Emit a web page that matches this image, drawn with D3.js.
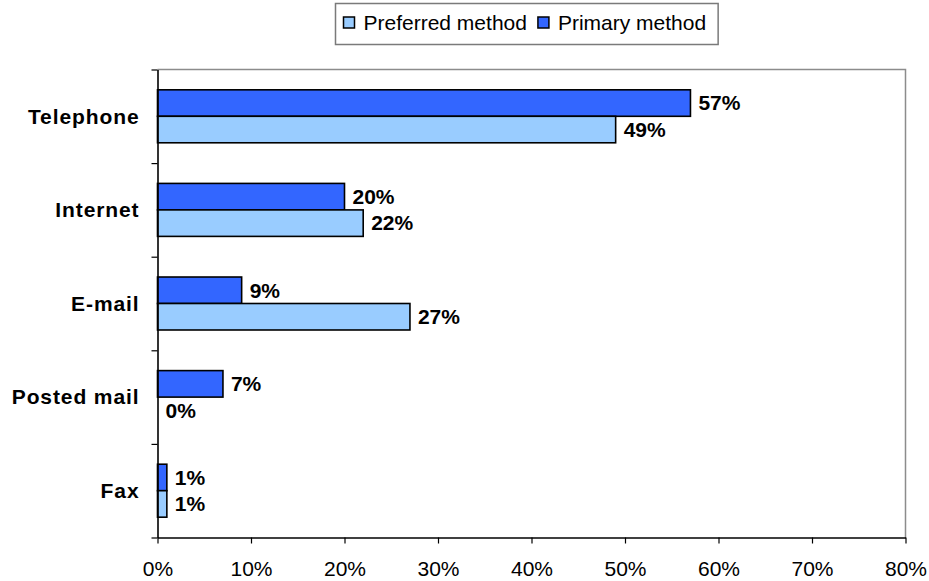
<!DOCTYPE html>
<html>
<head>
<meta charset="utf-8">
<script src="https://cdn.jsdelivr.net/npm/d3@7"></script>
<style>
  html, body { margin: 0; padding: 0; background: #fff; }
  svg { display: block; font-family: "Liberation Sans", Arial, sans-serif; }
</style>
</head>
<body>
<svg id="chart" width="929" height="581"></svg>
<script>
// Contact methods, top to bottom
const categories = ["Telephone", "Internet", "E-mail", "Posted mail", "Fax"];
const seriesNames = ["Primary method", "Preferred method"];
const primaryValues = [0.57, 0.20, 0.09, 0.07, 0.01];
const preferredValues = [0.49, 0.22, 0.27, 0.00, 0.01];
const xTicks = [0, 0.1, 0.2, 0.3, 0.4, 0.5, 0.6, 0.7, 0.8];
const legendOrder = ["Preferred method", "Primary method"];

const colors = { "Primary method": "#3366FF", "Preferred method": "#99CCFF" };
const values = { "Primary method": primaryValues, "Preferred method": preferredValues };

const svg = d3.select("#chart");
const plot = { left: 157.5, right: 905.5, top: 69.5, bottom: 537.5 };

const x = d3.scaleLinear().domain([0, 0.8]).range([plot.left, plot.right]);
const y = d3.scaleBand().domain(categories).range([plot.top, plot.bottom])
  .paddingInner(0.434).paddingOuter(0.217);
const ySub = d3.scaleBand().domain(seriesNames).range([0, y.bandwidth()]);
const pct = d3.format(".0%");

// plot area frame: grey top and right edges
svg.append("path")
  .attr("d", `M${plot.left},${plot.top}H${plot.right}V${plot.bottom}`)
  .attr("fill", "none").attr("stroke", "#8c8c8c").attr("stroke-width", 1.5);

// bars
const rows = svg.append("g").selectAll("g").data(categories).join("g")
  .attr("transform", c => `translate(0,${y(c)})`);

seriesNames.forEach(s => {
  rows.append("rect")
    .attr("x", x(0))
    .attr("y", ySub(s))
    .attr("width", (c, i) => x(values[s][i]) - x(0))
    .attr("height", ySub.bandwidth())
    .attr("fill", colors[s])
    .attr("stroke", "#000")
    .attr("stroke-width", 1.6)
    .attr("display", (c, i) => values[s][i] > 0 ? null : "none");

  rows.append("text")
    .attr("x", (c, i) => x(values[s][i]) + 8)
    .attr("y", ySub(s) + ySub.bandwidth() / 2)
    .attr("dy", "0.35em")
    .attr("font-size", 21)
    .attr("font-weight", "bold")
    .attr("fill", "#000")
    .text((c, i) => pct(values[s][i]));
});

// x axis
const xAxis = svg.append("g")
  .attr("transform", `translate(0,${plot.bottom})`)
  .call(d3.axisBottom(x).tickValues(xTicks).tickFormat(pct).tickSize(6).tickSizeOuter(0));
xAxis.select(".domain").attr("stroke", "#000").attr("stroke-width", 1.6);
xAxis.selectAll(".tick line").attr("stroke", "#000").attr("stroke-width", 1.2);
xAxis.selectAll(".tick text")
  .attr("font-family", "Liberation Sans, Arial, sans-serif")
  .attr("font-size", 21).attr("fill", "#000").attr("y", 23.5).attr("dy", "0.71em");

// y axis: ticks at category boundaries
const yEdges = d3.scaleLinear().domain([0, categories.length]).range([plot.top, plot.bottom]);
const yAxis = svg.append("g")
  .attr("transform", `translate(${plot.left},0)`)
  .call(d3.axisLeft(yEdges).tickValues(d3.range(categories.length + 1)).tickFormat("").tickSize(6).tickSizeOuter(0));
yAxis.select(".domain").attr("stroke", "#000").attr("stroke-width", 1.6);
yAxis.selectAll(".tick line").attr("stroke", "#000").attr("stroke-width", 1.2);

// category labels
svg.append("g").selectAll("text").data(categories).join("text")
  .attr("x", 139.5)
  .attr("y", c => y(c) + y.bandwidth() / 2)
  .attr("dy", "0.35em")
  .attr("text-anchor", "end")
  .attr("font-size", 21)
  .attr("font-weight", "bold")
  .attr("letter-spacing", "0.9px")
  .attr("fill", "#000")
  .text(c => c);

// legend
const legend = svg.append("g");
const legendBox = legend.append("rect")
  .attr("x", 335.5).attr("y", 3.5).attr("height", 41)
  .attr("fill", "#fff").attr("stroke", "#7a7a7a").attr("stroke-width", 1.5);
let lx = 343.5;
legendOrder.forEach(s => {
  legend.append("rect")
    .attr("x", lx).attr("y", 17).attr("width", 11).attr("height", 11)
    .attr("fill", colors[s]).attr("stroke", "#000").attr("stroke-width", 1.5);
  const t = legend.append("text")
    .attr("x", lx + 20).attr("y", 29.5)
    .attr("font-size", 21)
    .attr("fill", "#000")
    .text(s);
  lx += 20 + t.node().getComputedTextLength() + 11;
});
legendBox.attr("width", lx - 335.5 + 1);
</script>
</body>
</html>
